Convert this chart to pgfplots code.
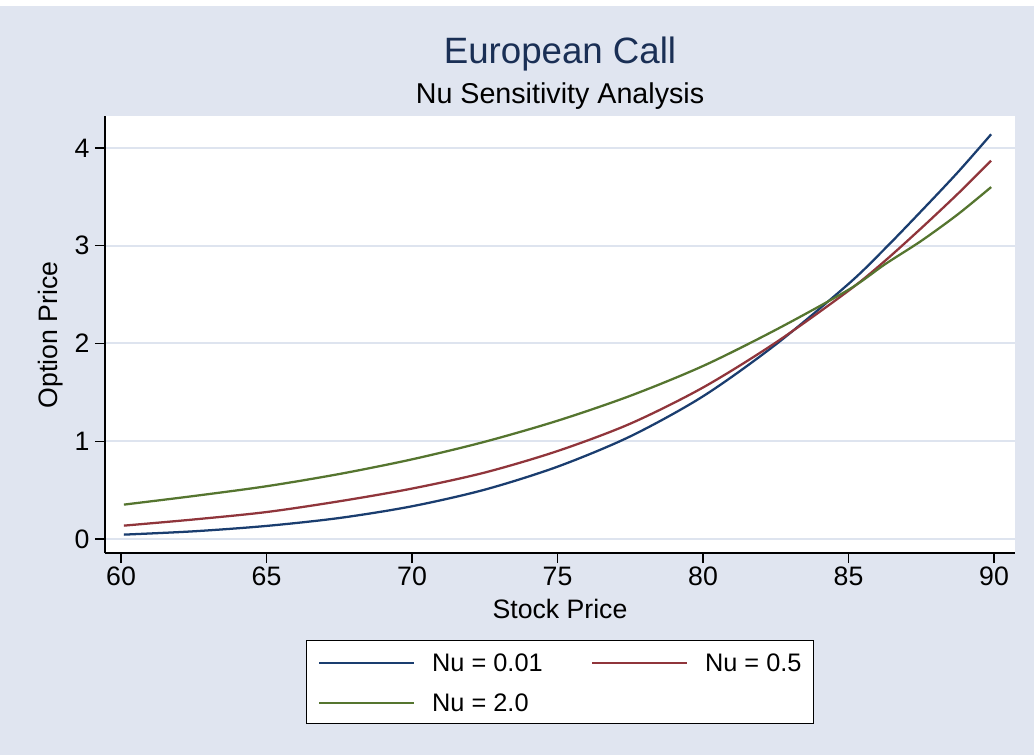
\documentclass[border=0pt]{standalone}
\usepackage{pgfplots}
\pgfplotsset{compat=1.18}
\usepackage{pgfplotstable}
\usepackage{fontspec}
\setmainfont{Liberation Sans}
\definecolor{bg}{RGB}{224,229,240}
\definecolor{gridc}{RGB}{222,228,239}
\definecolor{c1}{RGB}{26,61,111}
\definecolor{c2}{RGB}{144,53,59}
\definecolor{c3}{RGB}{85,117,47}
\definecolor{titlec}{RGB}{26,47,85}

\pgfplotstableread{
x     a      b      c
60.1  0.045  0.137  0.352
62.5  0.079  0.200  0.440
65    0.134  0.276  0.540
67.5  0.215  0.386  0.665
70    0.335  0.516  0.815
72.5  0.505  0.680  0.995
75    0.740  0.900  1.210
77.5  1.050  1.180  1.465
80    1.460  1.550  1.770
82.5  1.990  2.010  2.140
85    2.610  2.540  2.550
86.25 2.970  2.845  2.810
87.5  3.355  3.180  3.050
88.75 3.750  3.530  3.320
89.9  4.140  3.870  3.600
}\datatab

\begin{document}
\begin{tikzpicture}
\useasboundingbox (0,0) rectangle (775.5pt,-566.25pt);
\fill[white] (0,0) rectangle (775.5pt,-566.25pt);
\fill[bg] (0,-4.5pt) rectangle (775.5pt,-566.25pt);
\begin{axis}[
  at={(78.75pt,-414.75pt)}, anchor=south west,
  scale only axis, width=682.5pt, height=327.75pt,
  xmin=59.45, xmax=90.72, ymin=-0.143, ymax=4.327,
  axis lines*=left,
  axis line style={line width=1.1pt, black},
  axis background/.style={fill=white},
  xtick={60,65,...,90}, ytick={0,1,2,3,4},
  tick align=outside, major tick length=7.5pt,
  tick style={line width=1.1pt, black},
  ymajorgrids, grid style={gridc, line width=1.5pt},
  /pgf/number format/assume math mode=true,
  ticklabel style={font=\fontsize{20}{24}\selectfont},
  xticklabel style={inner ysep=3pt},
  yticklabel style={inner xsep=4pt},
  legend columns=2,
  legend cell align=left,
  legend image code/.code={\draw[#1, line width=1.5pt] (0pt,-1pt) -- (71.25pt,-1pt);},
  legend style={at={(0.5,-0.199)}, anchor=north, draw=black, line width=0.8pt,
    fill=white, font=\fontsize{19}{22}\selectfont,
    inner xsep=9pt, inner ysep=9pt,
    nodes={inner sep=0pt, text height=14pt, text depth=0pt},
    /tikz/every odd column/.append style={column sep=12.5pt},
    /tikz/every even column/.append style={column sep=36.5pt},
    row sep=16pt},
]
\addplot[c1, line width=1.7pt, smooth] table[x=x, y=a] {\datatab};
\addlegendentry{Nu = 0.01}
\addplot[c2, line width=1.7pt, smooth] table[x=x, y=b] {\datatab};
\addlegendentry{Nu = 0.5}
\addplot[c3, line width=1.7pt, smooth] table[x=x, y=c] {\datatab};
\addlegendentry{Nu = 2.0}
\end{axis}
\node[anchor=base, font=\fontsize{27.5}{32}\selectfont, text=titlec] at (420pt,-48pt) {European Call};
\node[anchor=base, font=\fontsize{21.5}{26}\selectfont] at (420pt,-78pt) {Nu Sensitivity Analysis};
\node[anchor=base, font=\fontsize{20}{24}\selectfont] at (420pt,-463.5pt) {Stock Price};
\node[anchor=base, rotate=90, font=\fontsize{20}{24}\selectfont] at (42.75pt,-251.25pt) {Option Price};
\end{tikzpicture}
\end{document}
